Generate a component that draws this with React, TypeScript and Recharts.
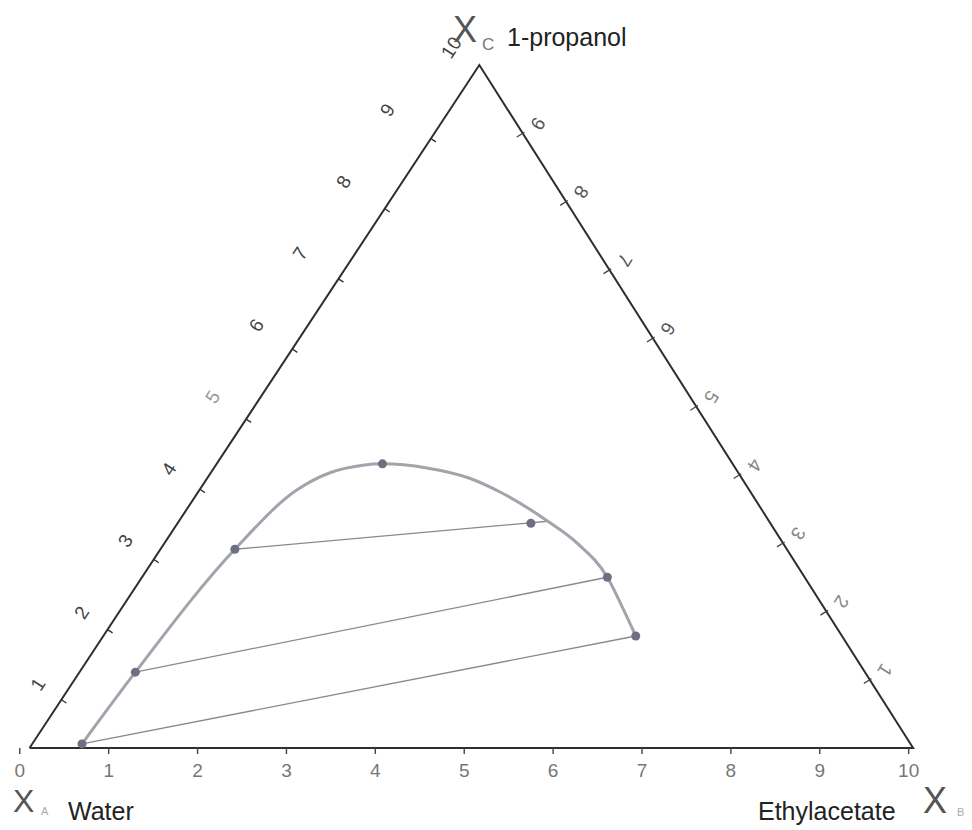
import React from 'react';
import { ComposedChart, Line, Scatter, XAxis, YAxis } from 'recharts';

// diagram units: x along the Water–Ethylacetate base (0..10), y = height (0 base .. 10 apex)
const bottomTicks = [0, 1, 2, 3, 4, 5, 6, 7, 8, 9, 10];
const leftTicks = [1, 2, 3, 4, 5, 6, 7, 8, 9, 10];
const rightTicks = [1, 2, 3, 4, 5, 6, 7, 8, 9];

// corners: Water (A), Ethylacetate (B), 1-propanol (C)
const cornerX = [0.11, 10.05, 5.17];
const cornerY = [0, 0, 10];

// binodal curve
const binodalX = [0.7, 1.3, 2.42, 3.12, 3.49, 3.86, 4.08, 4.58, 5.06, 5.43, 5.94, 6.27, 6.61, 6.78, 6.93];
const binodalY = [0.06, 1.11, 2.91, 3.78, 4.03, 4.14, 4.16, 4.1, 3.95, 3.73, 3.32, 3.0, 2.5, 2.06, 1.64];

// measured points
const pointX = [0.7, 1.3, 2.42, 4.08, 5.75, 6.61, 6.93];
const pointY = [0.06, 1.11, 2.91, 4.16, 3.29, 2.5, 1.64];

// tie lines (raffinate -> extract)
const tieFromX = [0.7, 1.3, 2.42];
const tieFromY = [0.06, 1.11, 2.91];
const tieToX = [6.93, 6.61, 5.94];
const tieToY = [1.64, 2.5, 3.32];

// left scale of the scan is slightly shifted against its corners
const LEFT_STEP = 0.1027;
const LEFT_SHIFT = -0.032;

const FONT = '"Liberation Sans", Arial, sans-serif';

const triangle = [0, 1, 2, 0].map(i => ({ x: cornerX[i], y: cornerY[i] }));
const binodal = binodalX.map((x, i) => ({ x, y: binodalY[i] }));
const points = pointX.map((x, i) => ({ x, y: pointY[i] }));
const ties = tieFromX.map((x, i) => [
  { x, y: tieFromY[i] },
  { x: tieToX[i], y: tieToY[i] },
]);

const along = (from: number, to: number, f: number) => ({
  x: cornerX[from] + (cornerX[to] - cornerX[from]) * f,
  y: cornerY[from] + (cornerY[to] - cornerY[from]) * f,
});
const leftMarks = leftTicks.map(k => ({ ...along(0, 2, LEFT_STEP * k + LEFT_SHIFT), k }));
const rightMarks = rightTicks.map(k => ({ ...along(1, 2, k / 10), k }));

const LeftMark = (p: any) => {
  const { cx, cy, payload } = p;
  const k = payload.k;
  const d = k === 10 ? 38 : 25 + 3 * k;
  const lx = cx - 0.835 * d + (k === 10 ? 6 : 0);
  const ly = cy - 0.55 * d;
  return (
    <g>
      {k < 10 && (
        <line x1={cx} y1={cy} x2={cx + 0.835 * 6} y2={cy + 0.55 * 6} stroke="#333" strokeWidth={1.4} />
      )}
      <text
        x={lx}
        y={ly}
        transform={`rotate(-57 ${lx} ${ly})`}
        textAnchor="middle"
        dominantBaseline="central"
        fontSize={19}
        fontFamily={FONT}
        fill={k === 5 ? '#999' : '#444'}
      >
        {k}
      </text>
    </g>
  );
};

const RightMark = (p: any) => {
  const { cx, cy, payload } = p;
  const d = 18;
  const lx = cx + 0.844 * d;
  const ly = cy - 0.535 * d;
  return (
    <g>
      <line x1={cx + 0.844 * 2} y1={cy - 0.535 * 2} x2={cx - 0.844 * 7} y2={cy + 0.535 * 7} stroke="#444" strokeWidth={1.3} />
      <text
        x={lx}
        y={ly}
        transform={`rotate(122 ${lx} ${ly})`}
        textAnchor="middle"
        dominantBaseline="central"
        fontSize={19}
        fontFamily={FONT}
        fill={payload.k >= 6 ? '#555' : '#888'}
      >
        {payload.k}
      </text>
    </g>
  );
};

const PointDot = (p: any) => <circle cx={p.cx} cy={p.cy} r={4.5} fill="#6d7080" />;

export default function App() {
  return (
    <div style={{ position: 'absolute', left: 0, top: 0, width: 972, height: 830, background: '#fff' }}>
      <ComposedChart width={972} height={830} margin={{ top: 65, right: 10, bottom: 0, left: 2 }}>
        <XAxis
          type="number"
          dataKey="x"
          domain={[-0.2, 10.6]}
          ticks={bottomTicks}
          interval={0}
          height={82}
          axisLine={false}
          tickLine={{ stroke: '#444', strokeWidth: 1.4 }}
          tickSize={6}
          tickMargin={10}
          tick={{ fontSize: 19, fill: '#777', fontFamily: FONT }}
        />
        <YAxis type="number" dataKey="y" domain={[0, 10]} hide width={0} />
        <Line data={triangle} dataKey="y" type="linear" stroke="#2e2e2e" strokeWidth={2} dot={false} activeDot={false} isAnimationActive={false} />
        {ties.map((t, i) => (
          <Line key={`tie-${i}`} data={t} dataKey="y" type="linear" stroke="#8a8a8a" strokeWidth={1.3} dot={false} activeDot={false} isAnimationActive={false} />
        ))}
        <Line data={binodal} dataKey="y" type="monotone" stroke="#a3a3ab" strokeWidth={3} dot={false} activeDot={false} isAnimationActive={false} />
        <Scatter data={leftMarks} dataKey="y" shape={LeftMark} isAnimationActive={false} />
        <Scatter data={rightMarks} dataKey="y" shape={RightMark} isAnimationActive={false} />
        <Scatter data={points} dataKey="y" shape={PointDot} isAnimationActive={false} />
      </ComposedChart>
      <svg width={972} height={830} style={{ position: 'absolute', left: 0, top: 0, pointerEvents: 'none' }} fontFamily={FONT}>
        <text x={453} y={42} fontSize={36} fill="#555">X</text>
        <text x={482} y={50} fontSize={17} fill="#777">C</text>
        <text x={507} y={46} fontSize={25} fill="#222">1-propanol</text>
        <text x={13} y={812} fontSize={32} fill="#555">X</text>
        <text x={41} y={815} fontSize={11} fill="#aaa">A</text>
        <text x={68} y={820} fontSize={25} fill="#222">Water</text>
        <text x={758} y={820} fontSize={25} fill="#222">Ethylacetate</text>
        <text x={923} y={813} fontSize={36} fill="#555">X</text>
        <text x={957} y={816} fontSize={11} fill="#aaa">B</text>
      </svg>
    </div>
  );
}
